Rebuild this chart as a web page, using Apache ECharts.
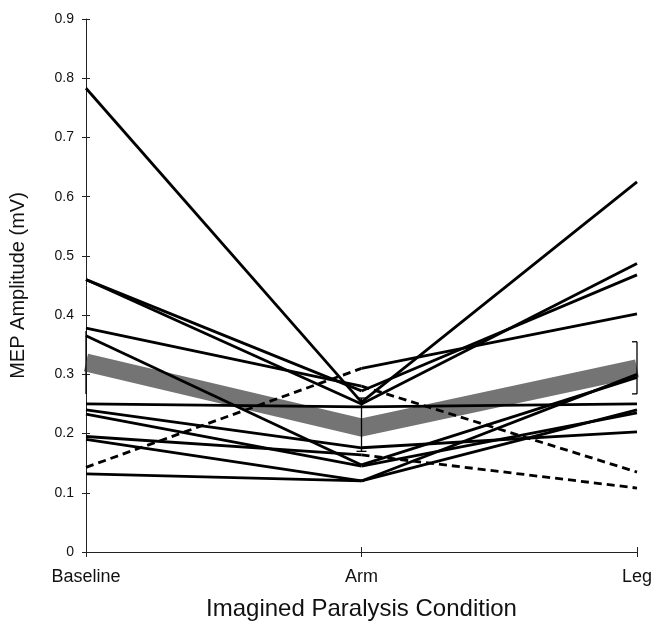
<!DOCTYPE html>
<html>
<head>
<meta charset="utf-8">
<script src="https://cdn.jsdelivr.net/npm/echarts@6/dist/echarts.min.js"></script>
<style>
html,body{margin:0;padding:0;background:#fff;}
#chart{width:656px;height:623px;}
</style>
</head>
<body>
<div id="chart"></div>
<script>
// Categories
var categories = ['Baseline', 'Arm', 'Leg'];
// Individual participants (values in mV) at each condition
var baselineValues = [0.783, 0.46, 0.46, 0.378, 0.365, 0.25, 0.24, 0.233, 0.195, 0.19, 0.143, 0.132];
var armValues      = [0.253, 0.272, 0.25, 0.28, 0.147, 0.245, 0.176, 0.145, 0.164, 0.12, 0.31, 0.12];
var legValues      = [0.625, 0.468, 0.487, 0.135, 0.295, 0.25, 0.203, 0.235, 0.108, 0.30, 0.402, 0.24];
// Group mean and error bar ends
var meanValues = [0.32, 0.21, 0.31];
var errLow  = [0.267, 0.17, 0.267];
var errHigh = [0.373, 0.26, 0.355];
// Y tick labels
var yTicks = [0, 0.1, 0.2, 0.3, 0.4, 0.5, 0.6, 0.7, 0.8, 0.9];

var FONT = 'Liberation Sans, Arial, sans-serif';
var chart = echarts.init(document.getElementById('chart'), null, {renderer: 'canvas'});

var series = [];
// mean band
series.push({
  type: 'line', data: meanValues, symbol: 'none', z: 1, silent: true,
  lineStyle: {color: '#747474', width: 18, cap: 'butt', join: 'miter'}
});
// participant segments
for (var i = 0; i < baselineValues.length; i++) {
  var b = baselineValues[i], a = armValues[i], l = legValues[i];
  series.push({
    type: 'line', data: [b, a, '-'], symbol: 'none', z: 3, silent: true,
    lineStyle: {color: '#000', width: 2.8, type: a > b ? [8, 5] : 'solid', cap: 'butt', join: 'miter'}
  });
  series.push({
    type: 'line', data: ['-', a, l], symbol: 'none', z: 3, silent: true,
    lineStyle: {color: '#000', width: 2.8, type: l < a ? [8, 5] : 'solid', cap: 'butt', join: 'miter'}
  });
}
// error bars
var errData = categories.map(function (c, k) { return [k, errLow[k], errHigh[k]]; });
series.push({
  type: 'custom', z: 4, silent: true, data: errData,
  renderItem: function (params, api) {
    var k = api.value(0);
    var p1 = api.coord([k, api.value(1)]);
    var p2 = api.coord([k, api.value(2)]);
    var cw = 5;
    var left = k === 0 ? 0 : cw, right = k === categories.length - 1 ? 0 : cw;
    if (k === 0) { left = 0; right = 0; }
    var st = {stroke: '#000', lineWidth: 1.3};
    return {type: 'group', children: [
      {type: 'line', shape: {x1: p1[0], y1: p1[1], x2: p2[0], y2: p2[1]}, style: st},
      {type: 'line', shape: {x1: p1[0] - left, y1: p1[1], x2: p1[0] + right, y2: p1[1]}, style: st},
      {type: 'line', shape: {x1: p2[0] - left, y1: p2[1], x2: p2[0] + right, y2: p2[1]}, style: st}
    ]};
  }
});

var option = {
  animation: false,
  backgroundColor: '#fff',
  textStyle: {fontFamily: FONT},
  grid: {left: 86, right: 19, top: 19, bottom: 71, containLabel: false, outerBoundsMode: 'none'},
  xAxis: [{
    type: 'category', data: categories, boundaryGap: false,
    axisLine: {lineStyle: {color: '#222', width: 1}},
    axisTick: {show: true, length: 5, lineStyle: {color: '#222'}},
    axisLabel: {fontSize: 18, color: '#111', margin: 16, fontFamily: FONT},
    splitLine: {show: false},
    name: 'Imagined Paralysis Condition', nameLocation: 'middle', nameGap: 45,
    nameTextStyle: {fontSize: 24, color: '#111', fontFamily: FONT}
  }, {
    type: 'category', data: categories, boundaryGap: false, position: 'bottom',
    axisLine: {show: false}, axisTick: {show: true, inside: true, length: 5, lineStyle: {color: '#222'}},
    axisLabel: {show: false}, splitLine: {show: false}
  }],
  yAxis: [{
    type: 'value', min: yTicks[0], max: yTicks[yTicks.length - 1], interval: 0.1,
    axisLine: {show: true, lineStyle: {color: '#222', width: 1}},
    axisTick: {show: true, length: 4, lineStyle: {color: '#222'}},
    axisLabel: {fontSize: 14, color: '#111', margin: 12, fontFamily: FONT,
      formatter: function (v) { return v === 0 ? '0' : v.toFixed(1); }},
    splitLine: {show: false},
    name: 'MEP Amplitude (mV)', nameLocation: 'middle', nameGap: 58,
    nameTextStyle: {fontSize: 20, color: '#111', fontFamily: FONT}
  }, {
    type: 'value', min: yTicks[0], max: yTicks[yTicks.length - 1], interval: 0.1, position: 'left',
    axisLine: {show: false}, axisTick: {show: true, inside: true, length: 4, lineStyle: {color: '#222'}},
    axisLabel: {show: false}, splitLine: {show: false}
  }],
  series: series
};
chart.setOption(option);
</script>
</body>
</html>
